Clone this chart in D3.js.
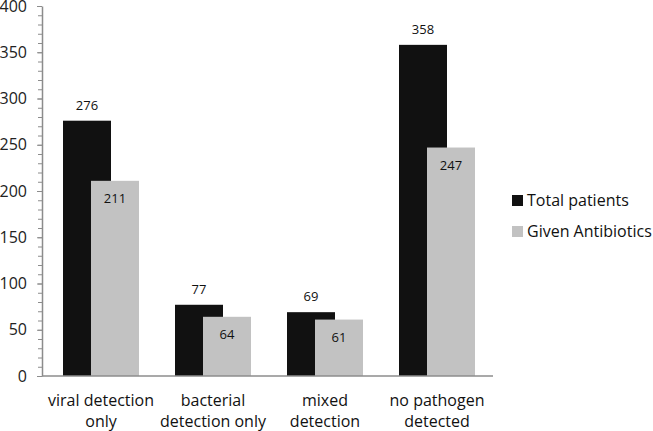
<!DOCTYPE html>
<html>
<head>
<meta charset="utf-8">
<script src="https://cdn.jsdelivr.net/npm/d3@7"></script>
<style>
  body { margin: 0; background: #fff; }
  text { font-family: "Open Sans", "Noto Sans", sans-serif; }
</style>
</head>
<body>
<script>
// chart data
const categories = [["viral detection", "only"], ["bacterial", "detection only"], ["mixed", "detection"], ["no pathogen", "detected"]];
const totalPatients = [276, 77, 69, 358];
const givenAntibiotics = [211, 64, 61, 247];
const seriesNames = ["Total patients", "Given Antibiotics"];
const yTicks = [0, 50, 100, 150, 200, 250, 300, 350, 400];

const W = 653, H = 431;
const svg = d3.select("body").append("svg").attr("width", W).attr("height", H);

const x = d3.scaleBand().domain(d3.range(categories.length)).range([42, 490]);
const y = d3.scaleLinear().domain([0, 400]).range([376, 6]);
const axisColor = "#8c8c8c";

// minor ticks every 10
const minor = svg.append("g").attr("transform", "translate(42,0)")
    .call(d3.axisLeft(y).tickValues(d3.range(0, 401, 10)).tickSize(4).tickFormat(""));
minor.select(".domain").remove();
minor.selectAll("line").attr("stroke", axisColor);

const yAxis = svg.append("g").attr("transform", "translate(42,0)")
    .call(d3.axisLeft(y).tickValues(yTicks).tickSize(5).tickSizeOuter(0).tickPadding(10));
yAxis.select(".domain").attr("stroke", axisColor).attr("stroke-width", 1.5);
yAxis.selectAll("line").attr("stroke", axisColor);
yAxis.selectAll("text").attr("font-size", 16).attr("fill", "#222")
    .attr("font-family", "'Open Sans', sans-serif");

const barW = 48;
const blackOff = 21, grayOff = 49;

// black bars
svg.selectAll(".tot").data(totalPatients).join("rect")
    .attr("x", (d, i) => x(i) + blackOff)
    .attr("y", d => y(d))
    .attr("width", barW)
    .attr("height", d => y(0) - y(d))
    .attr("fill", "#111111");

svg.selectAll(".totlbl").data(totalPatients).join("text")
    .attr("x", (d, i) => x(i) + blackOff + barW / 2)
    .attr("y", d => y(d) - 11)
    .attr("text-anchor", "middle")
    .attr("font-size", 13)
    .attr("fill", "#111")
    .text(d => d);

// gray bars
svg.selectAll(".ab").data(givenAntibiotics).join("rect")
    .attr("x", (d, i) => x(i) + grayOff)
    .attr("y", d => y(d))
    .attr("width", barW)
    .attr("height", d => y(0) - y(d))
    .attr("fill", "#c2c2c2");

svg.selectAll(".ablbl").data(givenAntibiotics).join("text")
    .attr("x", (d, i) => x(i) + grayOff + barW / 2)
    .attr("y", d => y(d) + 22)
    .attr("text-anchor", "middle")
    .attr("font-size", 13)
    .attr("fill", "#111")
    .text(d => d);

// baseline
svg.append("line").attr("x1", 42).attr("x2", 493).attr("y1", y(0)).attr("y2", y(0))
    .attr("stroke", axisColor).attr("stroke-width", 1.5);

// category labels
const cat = svg.selectAll(".cat").data(categories).join("text")
    .attr("text-anchor", "middle")
    .attr("font-size", 16)
    .attr("fill", "#111");
cat.each(function (d, i) {
    const cx = x(i) + (blackOff + grayOff + barW) / 2;
    d3.select(this).selectAll("tspan").data(d).join("tspan")
        .attr("x", cx)
        .attr("y", (t, j) => 406 + j * 21)
        .text(t => t);
});

// legend
const legend = svg.append("g");
const legendColors = ["#111111", "#c2c2c2"];
seriesNames.forEach((name, i) => {
    legend.append("rect").attr("x", 512).attr("y", 195 + i * 31).attr("width", 11).attr("height", 11)
        .attr("fill", legendColors[i]);
    legend.append("text").attr("x", 527).attr("y", 206 + i * 31)
        .attr("font-size", 16).attr("fill", "#111").text(name);
});
</script>
</body>
</html>
